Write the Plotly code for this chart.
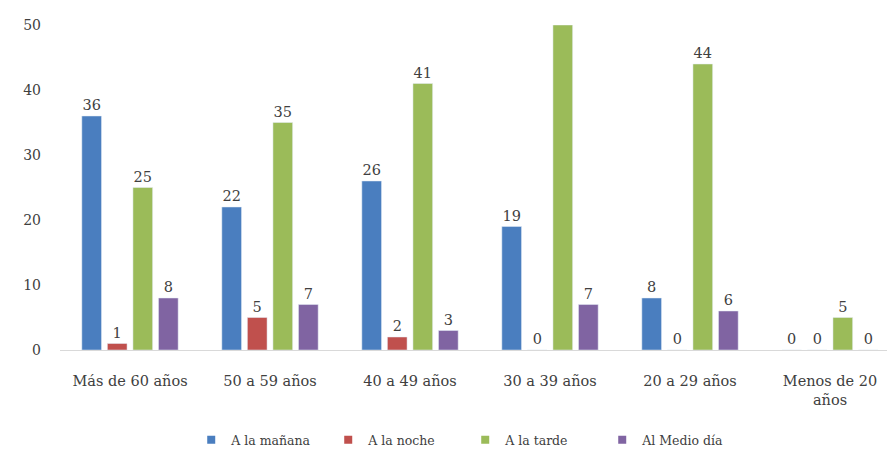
import plotly.graph_objects as go

categorias = ["Más de 60 años", "50 a 59 años", "40 a 49 años",
              "30 a 39 años", "20 a 29 años", "Menos de 20<br>años"]

manana = [36, 22, 26, 19, 8, 0]
noche = [1, 5, 2, 0, 0, 0]
tarde = [25, 35, 41, 50, 44, 5]
medio_dia = [8, 7, 3, 7, 6, 0]

series = [
    ("A la mañana", manana, "#4a7ebf"),
    ("A la noche", noche, "#c0504d"),
    ("A la tarde", tarde, "#9bbb59"),
    ("Al Medio día", medio_dia, "#8064a2"),
]

FONT = "DejaVu Serif, Liberation Serif, serif"
TXT = "#404040"
Y_MAX = 50

fig = go.Figure()
for nombre, valores, color in series:
    # labels that would fall above the top of the axis are left out
    textos = [str(v) if v < Y_MAX else "" for v in valores]
    fig.add_trace(go.Bar(
        name=nombre, x=categorias, y=valores, marker_color=color,
        text=textos, textposition="outside", cliponaxis=False,
        textfont=dict(family=FONT, size=14.5, color=TXT),
        showlegend=False,
    ))

# small square keys for the legend
for nombre, valores, color in series:
    fig.add_trace(go.Scatter(
        name=nombre, x=[None], y=[None], mode="markers",
        marker=dict(symbol="square", size=8, color=color),
        showlegend=True,
    ))

fig.update_layout(
    width=887, height=457,
    margin=dict(l=60, r=0, t=25, b=107),
    paper_bgcolor="white", plot_bgcolor="white",
    barmode="group", bargap=0.27, bargroupgap=0.23,
    font=dict(family=FONT, size=14, color=TXT),
    legend=dict(orientation="h", x=0.49, xanchor="center", y=-0.277, yanchor="middle",
                font=dict(family=FONT, size=12.5, color=TXT),
                itemwidth=30, entrywidth=92, traceorder="normal"),
)
fig.update_xaxes(range=[-0.5, 5.407], showline=True, linecolor="#d9d9d9", linewidth=1,
                 ticks="", ticklabelstandoff=18,
                 tickfont=dict(family=FONT, size=14.5, color=TXT))
fig.update_yaxes(range=[0, Y_MAX], dtick=10, showgrid=False, zeroline=False,
                 showline=False, ticks="", ticklabelstandoff=18,
                 tickfont=dict(family=FONT, size=14, color=TXT))

fig.write_html("out.html")
